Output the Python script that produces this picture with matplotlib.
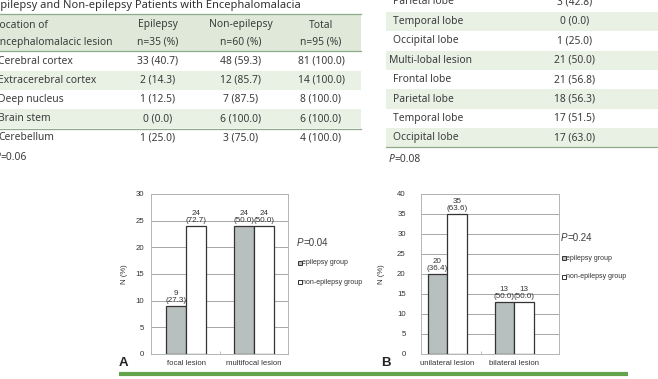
import numpy as np
import matplotlib
matplotlib.use("Agg")
import matplotlib.pyplot as plt
from matplotlib.patches import Rectangle

# Left table (cropped on the left side of the page)
left_title = "Epilepsy and Non-epilepsy Patients with Encephalomalacia"
left_head = ["Location of", "Encephalomalacic lesion"]
left_cols = ["Epilepsy", "Non-epilepsy", "Total"]
left_ns = ["n=35 (%)", "n=60 (%)", "n=95 (%)"]
sites = ["Cerebral cortex", "Extracerebral cortex", "Deep nucleus", "Brain stem", "Cerebellum"]
site_epi = [33, 2, 1, 0, 1]
site_epi_pct = [40.7, 14.3, 12.5, 0.0, 25.0]
site_non = [48, 12, 7, 6, 3]
site_non_pct = [59.3, 85.7, 87.5, 100.0, 75.0]
site_total = [81, 14, 8, 6, 4]
site_total_pct = [100.0, 100.0, 100.0, 100.0, 100.0]
left_p = "0.06"

# Right table (top rows cut off)
lobes = ["Parietal lobe", "Temporal lobe", "Occipital lobe", "Multi-lobal lesion",
         "Frontal lobe", "Parietal lobe", "Temporal lobe", "Occipital lobe"]
lobe_n = [3, 0, 1, 21, 21, 18, 17, 17]
lobe_pct = [42.8, 0.0, 25.0, 50.0, 56.8, 56.3, 51.5, 63.0]
lobe_indent = [True, True, True, False, True, True, True, True]
right_p = "0.08"

# Bar chart A
a_cats = ["focal lesion", "multifocal lesion"]
a_epi = [9, 24]
a_epi_pct = [27.3, 50.0]
a_non = [24, 24]
a_non_pct = [72.7, 50.0]
a_p = "0.04"

# Bar chart B
b_cats = ["unilateral lesion", "bilateral lesion"]
b_epi = [20, 13]
b_epi_pct = [36.4, 50.0]
b_non = [35, 13]
b_non_pct = [63.6, 50.0]
b_p = "0.24"

W, H = 658, 379
TFONT = "Noto Sans"
CFONT = "Liberation Sans"
TCOL = "#3c3c3c"
BAND = "#e9f0e4"
HEAD = "#e0e9d9"
RULE = "#8daa8a"


def p_value(ax, x, y, val, size, family):
    # italic P followed by the upright value
    p = ax.text(x, y, "P", fontsize=size, family=family, style="italic",
                color=TCOL, ha="left", va="center")
    ax.annotate("=" + val, xy=(1, 0), xycoords=p, ha="left", va="bottom",
                fontsize=size, family=family, color=TCOL)


def draw_tables(bg):
    fs = 7.4
    # title
    bg.text(-6, 8, left_title, fontsize=8.0, family=TFONT, color="#333333", va="baseline")

    # header band
    bg.add_patch(Rectangle((0, 14), 361, 37, color=HEAD, lw=0))
    bg.plot([0, 361], [14, 14], color=RULE, lw=0.9)
    bg.plot([0, 361], [51, 51], color=RULE, lw=0.9)
    bg.text(-6, 25, left_head[0], fontsize=fs, family=TFONT, color=TCOL, va="center")
    bg.text(-6, 42, left_head[1], fontsize=fs, family=TFONT, color=TCOL, va="center")
    colx = [158, 241, 321]
    for cx, name, n in zip(colx, left_cols, left_ns):
        bg.text(cx, 25, name, fontsize=fs, family=TFONT, color=TCOL, ha="center", va="center")
        bg.text(cx, 42, n, fontsize=fs, family=TFONT, color=TCOL, ha="center", va="center")

    # body rows
    for i, site in enumerate(sites):
        y = 61 + 19.2 * i
        if i % 2 == 1:
            bg.add_patch(Rectangle((0, y - 9.6), 361, 19.2, color=BAND, lw=0))
        bg.text(-2, y, site, fontsize=fs, family=TFONT, color=TCOL, va="center")
        vals = ["%d (%.1f)" % (site_epi[i], site_epi_pct[i]),
                "%d (%.1f)" % (site_non[i], site_non_pct[i]),
                "%d (%.1f)" % (site_total[i], site_total_pct[i])]
        for cx, v in zip(colx, vals):
            bg.text(cx, y, v, fontsize=fs, family=TFONT, color=TCOL, ha="center", va="center")
    bg.plot([0, 361], [128.5, 128.5], color=RULE, lw=0.9)
    p_value(bg, -5, 157, left_p, fs, TFONT)

    # right table
    for i, lobe in enumerate(lobes):
        y = 2 + 19.4 * i
        if i % 2 == 1:
            bg.add_patch(Rectangle((386, y - 9.7), W - 386, 19.4, color=BAND, lw=0))
        x = 393 if lobe_indent[i] else 389
        bg.text(x, y, lobe, fontsize=fs, family=TFONT, color=TCOL, va="center")
        bg.text(575, y, "%d (%.1f)" % (lobe_n[i], lobe_pct[i]), fontsize=fs,
                family=TFONT, color=TCOL, ha="center", va="center")
    bg.plot([386, W], [147, 147], color=RULE, lw=0.9)
    p_value(bg, 389, 159, right_p, fs, TFONT)


def bar_panel(fig, bg, px, cats, epi, epi_pct, non, non_pct, ymax, xlim, ypad,
              ylab_x, letter, letter_x, pval, leg_x, leg_y):
    left, right, top, bottom = px
    ax = fig.add_axes([left / W, 1 - bottom / H, (right - left) / W, (bottom - top) / H])
    x = np.arange(len(cats))
    w = 0.29
    b1 = ax.bar(x - w / 2, epi, w, color="#b8bfbf", edgecolor="#333333", lw=0.9, zorder=3)
    b2 = ax.bar(x + w / 2, non, w, color="white", edgecolor="#333333", lw=0.9, zorder=3)
    for bars, ns, pcts in ((b1, epi, epi_pct), (b2, non, non_pct)):
        for bar, n, p in zip(bars, ns, pcts):
            ax.annotate("%d\n(%.1f)" % (n, p),
                        (bar.get_x() + bar.get_width() / 2, bar.get_height()),
                        xytext=(0, 1.2), textcoords="offset points", ha="center",
                        va="bottom", fontsize=5.8, family=CFONT, color="#333333",
                        linespacing=1.05)

    ax.set_ylim(0, ymax)
    ax.set_yticks(range(0, ymax + 1, 5))
    ax.set_xlim(*xlim)
    ax.set_xticks(x)
    ax.set_xticklabels(cats, family=CFONT)
    ax.set_xticks([0.5], minor=True)
    for lab in ax.get_yticklabels():
        lab.set_family(CFONT)
    ax.yaxis.grid(True, color="#a8a8a8", lw=0.7)
    ax.set_axisbelow(True)
    for s in ax.spines.values():
        s.set_color("#b4b4b4")
        s.set_linewidth(0.7)
    ax.tick_params(axis="y", length=0, pad=ypad, labelsize=5.6, labelcolor="#333333")
    ax.tick_params(axis="x", which="major", length=0, pad=4.5, labelsize=5.6,
                   labelcolor="#333333")
    ax.tick_params(axis="x", which="minor", length=2, direction="in", color="#b4b4b4")
    ax.set_ylabel("N (%)", fontsize=5.6, family=CFONT, color="#333333")
    ax.yaxis.set_label_coords(ylab_x, 0.5)

    bg.text(letter_x, 363, letter, fontsize=9.5, family=CFONT, fontweight="bold",
            color="#222222", ha="center", va="center")
    p_value(bg, leg_x - 3, leg_y, pval, 7, CFONT)
    for dy, fc, name in ((20, "#b8bfbf", "epilepsy group"), (39, "white", "non-epilepsy group")):
        bg.plot([leg_x], [leg_y + dy], marker="s", ms=3.2, mfc=fc, mec="#333333", mew=0.7)
        bg.text(leg_x + 2.5, leg_y + dy, name, fontsize=5, family=CFONT,
                color="#333333", va="center")


def main():
    fig = plt.figure(figsize=(W / 100, H / 100), dpi=100)
    bg = fig.add_axes([0, 0, 1, 1])
    bg.set_xlim(0, W)
    bg.set_ylim(H, 0)
    bg.axis("off")

    draw_tables(bg)

    bar_panel(fig, bg, (151, 288, 194, 354), a_cats, a_epi, a_epi_pct, a_non, a_non_pct,
              30, (-0.515, 1.5), 5, -0.17, "A", 123, a_p, 300, 243)
    bar_panel(fig, bg, (421, 559, 194, 354), b_cats, b_epi, b_epi_pct, b_non, b_non_pct,
              40, (-0.39, 1.67), 11, -0.26, "B", 386, b_p, 564, 238)

    # green rule under the figure
    bg.plot([119, 628], [374, 374], color="#62a34b", lw=3, solid_capstyle="butt")

    fig.savefig("out.png", dpi=100)
    plt.close()


main()
